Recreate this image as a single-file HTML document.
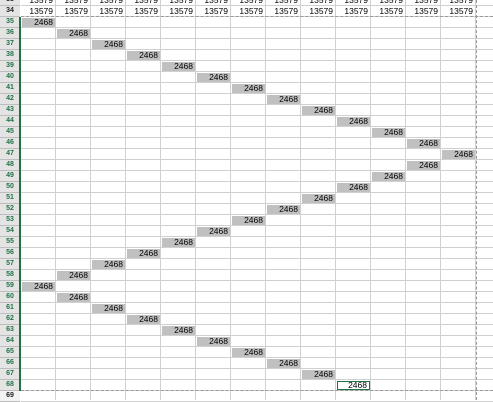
<!DOCTYPE html><html><head><meta charset="utf-8"><style>
body{margin:0;width:493px;height:400px;overflow:hidden;background:#fff;font-family:"Liberation Sans",sans-serif;}
#s{position:relative;width:493px;height:400px;}
.rh{position:absolute;left:0;width:20px;height:11px;background:#e4e4e4;border-bottom:1px solid #bdbdbd;box-sizing:border-box;font-size:7px;font-weight:bold;line-height:10px;text-align:center;color:#217346;}
.hl{position:absolute;height:1px;left:21px;right:0;background:#d0d0d0;}
.vl{position:absolute;width:1px;top:0;bottom:0;background:#d0d0d0;}
.c{position:absolute;height:9px;width:33px;font-size:8.5px;line-height:9px;text-align:right;box-sizing:border-box;padding-right:2px;color:#000;}
.g{background:#c0c0c0;}
</style></head><body><div id="s"></div>
<script>
const headerValues=["13579","13579","13579","13579","13579","13579","13579","13579","13579","13579","13579","13579","13579"];
const cellValue="2468";
const cellColumns=[0,1,2,3,4,5,6,7,8,9,10,11,12,11,10,9,8,7,6,5,4,3,2,1,0,1,2,3,4,5,6,7,8,9];
const firstRow=35;
const s=document.getElementById('s');
const X0=21,CW=35,Y0=17,RH=11;
function colX(i){return X0+i*CW;}
function rowY(r){return Y0+(r-firstRow)*RH;}
function add(cls,st,txt){const d=document.createElement('div');d.className=cls;Object.assign(d.style,st);if(txt!==undefined)d.textContent=txt;s.appendChild(d);return d;}
for(let r=33;r<=69;r++){const l=add('hl',{top:(rowY(r)+RH-1)+'px'});}
for(let i=0;i<=13;i++){const l=add('vl',{left:(colX(i+1)-1)+'px'});}
for(let r=33;r<=69;r++){const h=add('rh',{top:rowY(r)+'px'},String(r));
if(r<35||r>68){h.style.color='#222';h.style.background=r==69?'#f3f3f3':'#e4e4e4';}
}
const gb=add('',{position:'absolute',left:'19px',width:'2px',top:rowY(35)+'px',height:(34*RH)+'px',background:'#217346'});

headerValues.forEach((v,i)=>{[33,34].forEach(r=>{const c=add('c',{left:(colX(i)+1)+'px',top:(rowY(r)+1)+'px'},v);});});
cellColumns.forEach((ci,k)=>{const r=firstRow+k;const last=k==cellColumns.length-1;
const c=add('c'+(last?'':' g'),{left:(colX(ci)+1)+'px',top:(rowY(r)+1)+'px'},cellValue);
if(last){c.style.border='1px solid #217346';c.style.lineHeight='7px';c.style.background='#fff';}
});
const d1=add('',{position:'absolute',left:'21px',right:'0',top:'16px',height:'0',borderTop:'1px dashed #999'});

const d2=add('',{position:'absolute',left:'21px',right:'0',top:'390px',height:'0',borderTop:'1px dashed #999'});

const d3=add('',{position:'absolute',left:'476px',top:'0',bottom:'0',width:'0',borderLeft:'1px dashed #999'});

</script></body></html>
